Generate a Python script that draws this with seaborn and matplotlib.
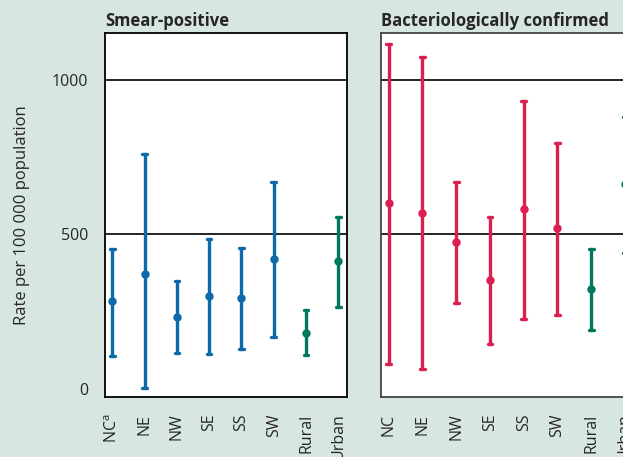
import pandas as pd
import matplotlib
matplotlib.use("Agg")
import matplotlib.pyplot as plt
import seaborn as sns

# Categories (x axis)
categories = ["NC", "NE", "NW", "SE", "SS", "SW", "Rural", "Urban"]
tick_labels_smear = ["NC$^{\\mathrm{a}}$", "NE", "NW", "SE", "SS", "SW", "Rural", "Urban"]
tick_labels_bact = ["NC", "NE", "NW", "SE", "SS", "SW", "Rural", "Urban"]
groups = ["zone", "zone", "zone", "zone", "zone", "zone", "setting", "setting"]

# Smear-positive: estimate and 95% interval
smear_est = [285, 371, 234, 301, 293, 422, 182, 413]
smear_low = [107, 2, 115, 112, 129, 169, 109, 266]
smear_high = [453, 759, 348, 484, 455, 671, 255, 556]

# Bacteriologically confirmed
bact_est = [601, 571, 475, 354, 582, 520, 324, 663]
bact_low = [82, 65, 277, 146, 228, 240, 190, 439]
bact_high = [1115, 1074, 671, 558, 933, 795, 454, 881]

BG = "#d8e6e1"
BLUE = "#0b6aa8"
RED = "#dc1f50"
GREEN = "#00785f"


def long_table(est, low, high):
    # three rows per category: median = estimate, full range = interval
    rows = []
    for cat, grp, e, lo, hi in zip(categories, groups, est, low, high):
        for v in (lo, e, hi):
            rows.append({"cat": cat, "group": grp, "rate": v})
    return pd.DataFrame(rows)


sns.set_theme(style="white")
plt.rcParams["font.family"] = ["Open Sans", "DejaVu Sans"]
plt.rcParams["mathtext.fontset"] = "custom"
plt.rcParams["mathtext.rm"] = "Open Sans"

fig = plt.figure(figsize=(6.23, 4.57), dpi=100, facecolor=BG)
ax1 = fig.add_axes([105 / 623, 60 / 457, 242 / 623, 364 / 457])
ax2 = fig.add_axes([381 / 623, 60 / 457, 253 / 623, 364 / 457])

panels = [
    (ax1, long_table(smear_est, smear_low, smear_high), BLUE, "Smear-positive", tick_labels_smear, "black"),
    (ax2, long_table(bact_est, bact_low, bact_high), RED, "Bacteriologically confirmed", tick_labels_bact, "#444444"),
]

for ax, df, main_col, title, labels, spine_col in panels:
    sns.pointplot(
        data=df, x="cat", y="rate", hue="group", order=categories,
        palette={"zone": main_col, "setting": GREEN},
        estimator="median", errorbar=("pi", 100),
        capsize=0.14, linestyle="none", markersize=4,
        err_kws={"linewidth": 2.4}, legend=False, ax=ax,
    )
    ax.set_facecolor("white")
    ax.set_xlim(-0.23, 7.27)
    ax.set_ylim(-26, 1152)
    for yv in (500, 1000):
        ax.axhline(yv, color="black", linewidth=1.2, zorder=0)
    ax.set_xticks(range(len(categories)))
    ax.set_xticklabels(labels, rotation=90, fontsize=11.5)
    ax.tick_params(axis="x", length=9, width=1.3, color="#222222", pad=3)
    ax.set_xlabel("")
    ax.set_ylabel("")
    for sp in ax.spines.values():
        sp.set_color(spine_col)
        sp.set_linewidth(1.3)
    ax.set_title(title, loc="left", fontsize=12, fontweight="bold", pad=5)

ax1.set_yticks([0, 500, 1000])
ax1.set_yticklabels(["0", "500", "1000"], fontsize=11.5)
ax1.tick_params(axis="y", length=0, pad=12)
ax1.set_ylabel("Rate per 100 000 population", fontsize=12, labelpad=16)
ax2.set_yticks([])

fig.savefig("out.png", dpi=100, facecolor=BG)
